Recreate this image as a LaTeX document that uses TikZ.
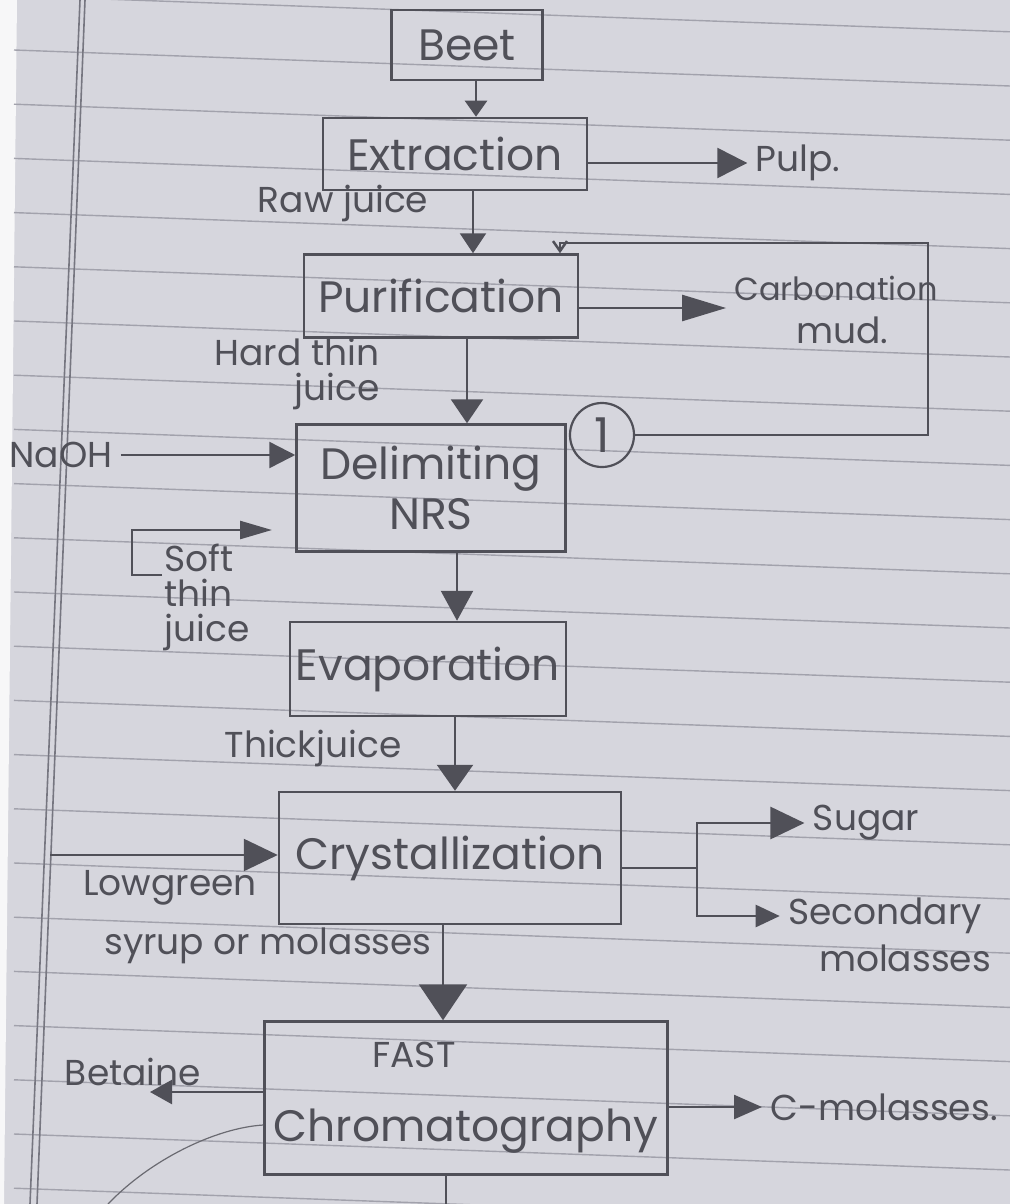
\documentclass[tikz,border=0pt]{standalone}
\usepackage{fontspec}
\setmainfont{Poppins}
\usetikzlibrary{arrows.meta,positioning}
\definecolor{paper}{RGB}{214,214,221}
\definecolor{pencil}{RGB}{80,80,88}
\definecolor{ruling}{RGB}{162,162,172}
\definecolor{margin}{RGB}{118,118,128}
\tikzset{
  stage/.style={draw=pencil,line width=1.25pt,text=pencil,font=\fontsize{22}{25}\selectfont,align=center,inner sep=0pt},
  tag/.style={text=pencil,font=\fontsize{18}{17.5}\selectfont,inner sep=4pt},
  flow/.style={draw=pencil,line width=1.25pt},
  flowtip/.style 2 args={-{Triangle[length=#1,width=#2]}},
}

\begin{document}
\begin{tikzpicture}[x=0.5pt,y=-0.5pt]
  \useasboundingbox (0,0) rectangle (1010,1204);
  % ruled notebook page
  \fill[paper] (0,0) rectangle (1010,1204);
  \fill[white!80!paper] (0,0) -- (17,0) -- (4,1204) -- (0,1204) -- cycle;
  \begin{scope}
    \clip (0,0) rectangle (1010,1204);
    \foreach \k in {-1,...,21} {
      \draw[ruling,line width=0.7pt] (14,50+54.2*\k) -- (1010,86+54.2*\k);
    }
    \draw[margin,line width=0.8pt] (80,0) -- (30,1204);
    \draw[margin,line width=0.8pt] (85,0) -- (37,1204);
  \end{scope}

  % process stages
  \node[stage,minimum width=75.5pt,minimum height=35pt] (beet) at (467,45) {Beet};
  \node[stage,minimum width=132pt,minimum height=36pt] (extr) at (455,154) {Extraction};
  \node[stage,minimum width=137pt,minimum height=41.5pt] (puri) at (441,296) {Purification};
  \node[stage,minimum width=134.5pt,minimum height=63.5pt] (delim) at (431,488) {Delimiting\\NRS};
  \node[stage,minimum width=138pt,minimum height=47pt] (evap) at (428,669) {Evaporation};
  \node[stage,minimum width=171pt,minimum height=66pt] (cryst) at (450,858) {Crystallization};
  \node[stage,minimum width=201.5pt,minimum height=76.5pt] (chrom) at (466,1098)
    {{\fontsize{18}{20}\selectfont FAST}\rule{52pt}{0pt}\\[12pt]Chromatography};
  \node[draw=pencil,line width=1.1pt,circle,minimum size=32pt,inner sep=0pt,text=pencil,
    font=\fontsize{24}{24}\selectfont] (one) at (602,435) {1};

  % side streams and labels
  \node[tag] (pulp) at (798,163) {Pulp.};
  \node[tag] (raw) at (343,203) {Raw juice};
  \node[tag,font=\fontsize{16}{16}\selectfont,
    label={[tag,xshift=3pt]below:mud.}] (carb) at (836,288) {Carbonation};
  \node[tag,align=right] (hard) at (297,374) {Hard thin\\juice};
  \node[tag] (naoh) at (61,455) {NaOH};
  \node[tag,align=left,anchor=west] (soft) at (156,597) {Soft\\thin\\juice};
  \node[tag] (thick) at (313,748) {Thickjuice};
  \node[tag,label={[tag,xshift=49pt,yshift=-3pt]below:syrup or molasses}] (lowg) at (170,888) {Lowgreen};
  \node[tag] (sugar) at (866,823) {Sugar};
  \node[tag,label={[tag,xshift=10pt,yshift=3pt]below:molasses}] (second) at (885,916) {Secondary};
  \node[tag] (betaine) at (133,1072) {Betaine};
  \node[tag] (cmol) at (884,1107) {C-molasses.};

  \coordinate (carbin) at ([yshift=-10pt]carb.west);
  \coordinate (loopcorner) at (928,243);
  \coordinate (softst) at (162,575);
  \coordinate (softend) at (272,530);
  \coordinate (lowin) at (50,855);
  \coordinate (split) at (697,868);
  \coordinate (betip) at (150,1092);
  \coordinate (pagebot) at (446,1204);
  \coordinate (curveend) at (108,1204);

  % main line
  \draw[flow,flowtip={8pt}{11pt}] (beet.south -| 476,0) -- (extr.north -| 476,0);
  \draw[flow,flowtip={10pt}{13pt}] (extr.south -| 473,0) -- (puri.north -| 473,0);
  \draw[flow,flowtip={12pt}{16pt}] (puri.south -| 467,0) -- (delim.north -| 467,0);
  \draw[flow,flowtip={15pt}{16pt}] (delim.south -| 457,0) -- (evap.north -| 457,0);
  \draw[flow,flowtip={13pt}{18pt}] (evap.south -| 455,0) -- (cryst.north -| 455,0);
  \draw[flow,flowtip={18pt}{24pt}] (cryst.south -| 443,0) -- (chrom.north -| 443,0);
  \draw[flow] (chrom.south -| pagebot) -- (pagebot);

  % branches
  \draw[flow,flowtip={15pt}{15pt}] (extr.east |- pulp.west) -- (pulp.west);
  \draw[flow,flowtip={22pt}{13pt}] (puri.east |- carbin) -- (carbin);
  \draw[flow,-{Straight Barb[length=5pt,width=7pt]}] (one.east) -| (loopcorner) -| (puri.north -| 560,0);
  \draw[flow,flowtip={13pt}{13pt}] (naoh.east) -- (naoh.east -| delim.west);
  \draw[flow,flowtip={16pt}{9pt}] (softst) -- ++(-15pt,0) |- (softend);
  \draw[flow,flowtip={17pt}{16pt}] (lowin) -- (lowin -| cryst.west);
  \draw[flow] (cryst.east |- split) -- (split);
  \draw[flow,flowtip={17pt}{16pt}] (split) |- (sugar.west);
  \draw[flow,flowtip={12pt}{11pt}] (split) |- (second.west);
  \draw[flow,flowtip={11pt}{12pt}] (chrom.west |- betip) -- (betip);
  \draw[flow,flowtip={14pt}{12pt}] (chrom.east |- cmol.west) -- (cmol.west);
  \draw[pencil!85,line width=0.6pt] (chrom.west |- 0,1125) .. controls (215,1128) and (150,1160) .. (curveend);
\end{tikzpicture}
\end{document}
